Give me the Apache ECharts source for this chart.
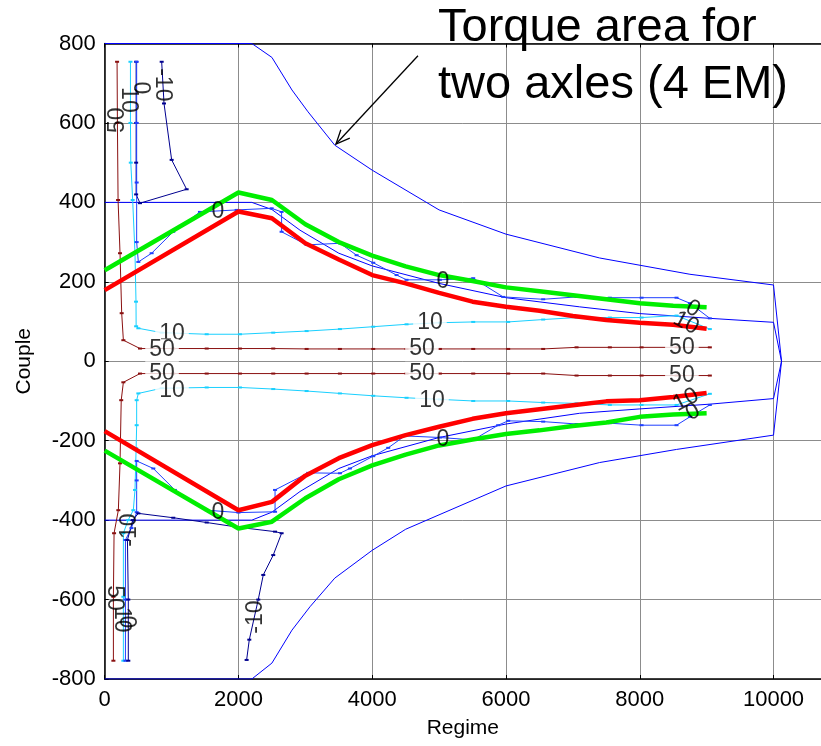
<!DOCTYPE html>
<html>
<head>
<meta charset="utf-8">
<script src="https://cdn.jsdelivr.net/npm/echarts@6/dist/echarts.min.js"></script>
<style>
  html, body { margin: 0; padding: 0; background: #fff; }
  #chart { width: 821px; height: 746px; }
</style>
</head>
<body>
<div id="chart"></div>
<script>
// Axis ticks (the plot box runs past the right edge of the page)
const regimeTicks = { min: 0, max: 10710, interval: 2000 };
const coupleTicks = { min: -800, max: 800, interval: 200 };

// Torque envelope for two axles (4 EM) and for one axle
const outerEnvelope = [[0,800],[2200,800],[2500,765],[2800,683],[3040,628],[3440,544],[4000,481],[5000,381],[6000,320],[7400,260],[8750,219],[10000,192],[10120,0],[10000,-186],[8550,-222],[7400,-255],[6000,-314],[4500,-423],[4000,-476],[3440,-546],[3070,-618],[2800,-677],[2500,-760],[2200,-800],[0,-800]];
const innerEnvelope = [[0,400],[2200,400],[2500,382],[2920,330],[3500,272],[4000,240],[5000,196],[6000,160],[7100,137],[8000,120],[9050,108],[10000,98],[10120,0],[10000,-94],[9050,-108],[8000,-120],[7100,-131],[6000,-158],[5000,-192],[4000,-238],[3500,-270],[2920,-328],[2500,-380],[2200,-400],[0,-400]];

// Iso-lines (levels -10, 0, 10, 50)
const contourM10Upper = [[852,754],[887,649],[1001,507],[1225,433],[528,398],[470,420],[470,500],[470,600],[470,754]];
const contour0Upper = [[478,754],[478,600],[478,450],[478,300],[503,250],[702,272],[1025,326],[1424,376],[1973,381],[2496,385],[2645,376],[2645,326],[3019,293],[3517,297],[3766,267],[4015,248],[4364,217],[4513,205],[5012,205],[5510,209],[5958,162],[6556,156],[7055,162],[7553,160],[8027,160],[8550,160],[8750,146],[9048,108]];
const contour10Upper = [[385,754],[385,600],[390,500],[418,406],[453,272],[468,150],[470,88],[503,83],[852,72],[1525,68],[2022,68],[2520,72],[3019,76],[3517,81],[4015,87],[4513,93],[5012,97],[5510,99],[6033,99],[6556,105],[7055,110],[7553,110],[8027,110],[8550,115],[9048,81]];
const contour50Upper = [[185,754],[190,600],[200,406],[229,272],[254,121],[279,53],[528,32],[1025,32],[1525,32],[2022,32],[2520,32],[3019,31],[3517,31],[4015,31],[4513,31],[5012,31],[5510,31],[6033,31],[6556,31],[7055,35],[7553,35],[8027,35],[8550,35],[9048,35]];
const contour50Lower = [[130,-754],[130,-593],[140,-433],[204,-375],[229,-257],[247,-98],[279,-53],[528,-31],[1025,-31],[1525,-31],[2022,-31],[2520,-31],[3019,-31],[3517,-31],[4015,-31],[4513,-31],[5012,-31],[5510,-31],[6033,-31],[6556,-31],[7055,-36],[7553,-36],[8027,-36],[8550,-36],[9048,-36]];
const contour10Lower = [[279,-754],[279,-593],[279,-433],[350,-400],[428,-375],[453,-324],[470,-219],[478,-161],[478,-98],[503,-81],[852,-68],[1525,-66],[2022,-66],[2520,-70],[3019,-75],[3517,-81],[4015,-87],[4513,-92],[5012,-96],[5510,-100],[6033,-100],[6556,-104],[7055,-106],[7553,-110],[8027,-110],[8550,-110],[9048,-82]];
const contour0Lower = [[310,-754],[310,-600],[310,-450],[400,-420],[478,-380],[478,-300],[478,-251],[727,-270],[1049,-324],[1525,-375],[2000,-381],[2547,-379],[2547,-324],[3043,-281],[3517,-282],[3666,-270],[4015,-239],[4239,-218],[4488,-188],[5012,-192],[5510,-198],[5883,-161],[6033,-150],[6556,-152],[7055,-158],[7553,-156],[8027,-161],[8550,-161],[8750,-140],[9048,-110]];
const contourM10Lower = [[353,-754],[353,-600],[340,-450],[420,-400],[503,-383],[1025,-394],[1525,-406],[2000,-418],[2547,-429],[2645,-433],[2520,-488],[2371,-538],[2296,-600],[2162,-701],[2122,-752]];

// Torque limit curves
const regimeGrid = [0,2000,2500,3000,3500,4000,4500,5000,5500,6000,6500,7000,7500,8000,8500,9000];
const redUpper   = [179,377,360,297,256,217,196,172,150,137,127,114,104,97,92,82];
const greenUpper = [229,425,406,345,300,266,239,217,202,186,176,166,156,146,140,136];
const redLower   = [-176,-375,-354,-288,-244,-211,-186,-165,-145,-131,-121,-111,-101,-98,-90,-80];
const greenLower = [-225,-421,-404,-345,-297,-262,-235,-212,-197,-183,-174,-163,-154,-140,-134,-131];

// Level labels: text, regime, couple, rotation, masked background
const levelLabelText = ['0','10','50','50','10','0','0','10','50','50','10','0','0','10','50','50','10','0','-10','0','10','50','-10','50','10','0','-10'];
const levelLabelX    = [1694,1006,857,857,1006,1694,5057,4863,4743,4743,4893,5057,8795,8690,8630,8630,8690,8795,858,528,350,200,380,140,245,320,2264];
const levelLabelY    = [376,69,28,-32,-75,-380,200,97,31,-30,-100,-198,132,96,33,-37,-97,-128,696,688,658,607,-425,-596,-651,-656,-644];
const levelLabelRot  = [0,0,0,0,0,0,0,0,0,0,0,0,-28,-28,0,0,28,28,-90,-90,-90,90,90,-90,-90,-90,90];
const levelLabelMask = [0,1,1,1,1,0,0,1,1,1,1,0,0,0,1,1,0,0,0,0,0,0,0,0,0,0,0];

// Annotation arrow (regime, couple): tail then head
const arrowTail = [4684, 769];
const arrowHead = [3458, 547];

const FONT = '"Liberation Sans", Arial, sans-serif';
const COLORS = { m10: '#00008f', c0: '#1f3fff', c10: '#19d0ff', c50: '#8a1010', env: '#0000ff', red: '#ff0000', green: '#00ee00' };

const chart = echarts.init(document.getElementById('chart'), null, { renderer: 'canvas' });

function contourSeries(name, data, color) {
  return {
    name, type: 'line', data, color,
    showSymbol: true, symbol: 'rect', symbolSize: [4, 2],
    itemStyle: { color },
    lineStyle: { color, width: 1 },
    silent: true, animation: false, z: 3
  };
}
function plainSeries(name, data, color, width, z) {
  return {
    name, type: 'line', data, showSymbol: false,
    lineStyle: { color, width }, itemStyle: { color },
    silent: true, animation: false, z
  };
}
const pair = (xs, ys) => xs.map((x, i) => [x, ys[i]]);

const labelData = levelLabelText.map((t, i) => ({
  value: [levelLabelX[i], levelLabelY[i]],
  label: {
    formatter: t,
    rotate: levelLabelRot[i],
    backgroundColor: levelLabelMask[i] ? '#fff' : 'transparent',
    padding: levelLabelMask[i] ? [0, 4] : 0
  }
}));

const plainNumber = (v) => String(v);

const option = {
  backgroundColor: '#fff',
  animation: false,
  grid: { left: 104.7, top: 43.5, right: 0, height: 635.5, containLabel: false },
  xAxis: [{
    type: 'value', position: 'bottom',
    min: regimeTicks.min, max: regimeTicks.max, interval: regimeTicks.interval,
    name: 'Regime', nameLocation: 'middle', nameGap: 39,
    nameTextStyle: { fontFamily: FONT, fontSize: 21, color: '#000' },
    axisLine: { show: true, onZero: false, lineStyle: { color: '#000', width: 1.5 } },
    axisTick: { show: true, inside: true, length: 4, lineStyle: { color: '#000' } },
    axisLabel: { fontFamily: FONT, fontSize: 22, color: '#000', margin: 10, showMaxLabel: false, formatter: plainNumber },
    splitLine: { show: true, showMaxLine: false, lineStyle: { color: '#8c8c8c', width: 1 } }
  }, {
    type: 'value', position: 'top',
    min: regimeTicks.min, max: regimeTicks.max, interval: regimeTicks.interval,
    axisLine: { show: true, onZero: false, lineStyle: { color: '#000', width: 1.5 } },
    axisTick: { show: true, inside: true, length: 4, lineStyle: { color: '#000' } },
    axisLabel: { show: false },
    splitLine: { show: false }
  }],
  yAxis: [{
    type: 'value',
    min: coupleTicks.min, max: coupleTicks.max, interval: coupleTicks.interval,
    name: 'Couple', nameLocation: 'middle', nameGap: 70, nameRotate: 90,
    nameTextStyle: { fontFamily: FONT, fontSize: 21, color: '#000' },
    axisLine: { show: true, onZero: false, lineStyle: { color: '#000', width: 1.5 } },
    axisTick: { show: true, inside: true, length: 4, lineStyle: { color: '#000' } },
    axisLabel: { fontFamily: FONT, fontSize: 22, color: '#000', margin: 9, formatter: plainNumber },
    splitLine: { show: true, lineStyle: { color: '#8c8c8c', width: 1 } }
  }],
  series: [
    plainSeries('Envelope 4 EM', outerEnvelope, COLORS.env, 1, 2),
    plainSeries('Envelope 2 EM', innerEnvelope, COLORS.env, 1, 2),
    contourSeries('-10 upper', contourM10Upper, COLORS.m10),
    contourSeries('0 upper', contour0Upper, COLORS.c0),
    contourSeries('10 upper', contour10Upper, COLORS.c10),
    contourSeries('50 upper', contour50Upper, COLORS.c50),
    contourSeries('50 lower', contour50Lower, COLORS.c50),
    contourSeries('10 lower', contour10Lower, COLORS.c10),
    contourSeries('0 lower', contour0Lower, COLORS.c0),
    contourSeries('-10 lower', contourM10Lower, COLORS.m10),
    plainSeries('Green upper', pair(regimeGrid, greenUpper), COLORS.green, 4.5, 4),
    plainSeries('Red upper', pair(regimeGrid, redUpper), COLORS.red, 4.5, 4),
    plainSeries('Red lower', pair(regimeGrid, redLower), COLORS.red, 4.5, 4),
    plainSeries('Green lower', pair(regimeGrid, greenLower), COLORS.green, 4.5, 4),
    {
      name: 'Level labels', type: 'scatter', data: labelData,
      symbolSize: 0, silent: true, animation: false, z: 6,
      label: {
        show: true, position: 'inside', align: 'center', verticalAlign: 'middle',
        fontFamily: FONT, fontSize: 23, color: '#000', textBorderWidth: 0
      }
    }
  ]
};
chart.setOption(option);

// Annotation: text and arrow pointing at the 4 EM envelope
const tail = chart.convertToPixel({ gridIndex: 0 }, arrowTail);
const head = chart.convertToPixel({ gridIndex: 0 }, arrowHead);
const dx = tail[0] - head[0], dy = tail[1] - head[1];
const len = Math.hypot(dx, dy), ux = dx / len, uy = dy / len;
const headLen = 15, ang = 24 * Math.PI / 180;
const wing = (s) => [
  head[0] + headLen * (ux * Math.cos(s * ang) - uy * Math.sin(s * ang)),
  head[1] + headLen * (ux * Math.sin(s * ang) + uy * Math.cos(s * ang))
];

chart.setOption({
  graphic: [
    { type: 'text', x: 438, y: 28, z: 10,
      style: { text: 'Torque area for', font: '47px ' + FONT, fill: '#000', align: 'left', verticalAlign: 'middle' } },
    { type: 'text', x: 438, y: 85, z: 10,
      style: { text: 'two axles (4 EM)', font: '47px ' + FONT, fill: '#000', align: 'left', verticalAlign: 'middle' } },
    { type: 'line', z: 10, shape: { x1: tail[0], y1: tail[1], x2: head[0], y2: head[1] },
      style: { stroke: '#000', lineWidth: 1.3 } },
    { type: 'polyline', z: 10, shape: { points: [wing(1), head, wing(-1)] },
      style: { stroke: '#000', lineWidth: 1.3, fill: null } }
  ]
});
</script>
</body>
</html>
